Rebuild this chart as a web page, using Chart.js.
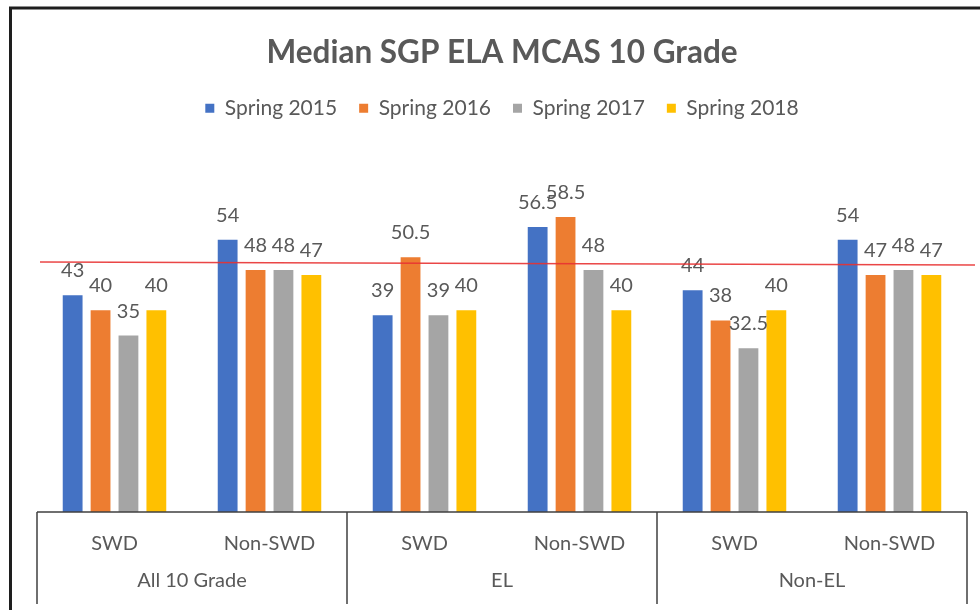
<!DOCTYPE html>
<html lang="en">

<head>
    <meta charset="UTF-8">
    <title>Median SGP ELA MCAS 10 Grade</title>
    <script src="https://cdn.jsdelivr.net/npm/chart.js"></script>
    <style>
        html, body { margin: 0; padding: 0; background: #fff; }
        .chart-box { width: 980px; height: 610px; }
    </style>
</head>

<body>
    <div class="chart-box">
        <canvas id="sgpChart" width="980" height="610"></canvas>
    </div>

    <script>
        // chart data
        const subgroups = ['SWD', 'Non-SWD', 'SWD', 'Non-SWD', 'SWD', 'Non-SWD'];
        const groups = ['All 10 Grade', 'EL', 'Non-EL'];
        const seriesNames = ['Spring 2015', 'Spring 2016', 'Spring 2017', 'Spring 2018'];
        const spring2015 = [43, 54, 39, 56.5, 44, 54];
        const spring2016 = [40, 48, 50.5, 58.5, 38, 47];
        const spring2017 = [35, 48, 39, 48, 32.5, 48];
        const spring2018 = [40, 47, 40, 40, 40, 47];
        const refLine = [49.6, 49.0]; // red reference line, left and right end

        const colors = ['#4472C4', '#ED7D31', '#A5A5A5', '#FFC000'];
        const textColor = '#595959';
        const fontFamily = 'Lato, "Open Sans", sans-serif';

        // white page + black frame
        const framePlugin = {
            id: 'frame',
            beforeDraw(chart) {
                const ctx = chart.ctx;
                ctx.save();
                ctx.fillStyle = '#fff';
                ctx.fillRect(0, 0, chart.width, chart.height);
                ctx.strokeStyle = '#1e1e1e';
                ctx.lineWidth = 3;
                ctx.beginPath();
                ctx.moveTo(10.5, chart.height);
                ctx.lineTo(10.5, 8);
                ctx.lineTo(chart.width, 8);
                ctx.stroke();
                ctx.restore();
            }
        };

        // baseline and group dividers under the bars
        const axisBoxPlugin = {
            id: 'axisBox',
            afterDraw(chart) {
                const ctx = chart.ctx;
                const area = chart.chartArea;
                const g = chart.scales.group;
                const half = (g.getPixelForValue(1) - g.getPixelForValue(0)) / 2;
                ctx.save();
                ctx.strokeStyle = '#404040';
                ctx.lineWidth = 1.5;
                ctx.beginPath();
                ctx.moveTo(area.left, area.bottom);
                ctx.lineTo(area.right, area.bottom);
                for (let i = 0; i <= groups.length; i++) {
                    const x = g.getPixelForValue(0) - half + i * half * 2;
                    ctx.moveTo(x, area.bottom);
                    ctx.lineTo(x, g.bottom);
                }
                ctx.stroke();

                // red reference line
                const y = chart.scales.y;
                ctx.strokeStyle = 'rgba(232, 50, 50, 0.9)';
                ctx.lineWidth = 1.5;
                ctx.beginPath();
                ctx.moveTo(area.left + 3, y.getPixelForValue(refLine[0]));
                ctx.lineTo(area.right + 8, y.getPixelForValue(refLine[1]));
                ctx.stroke();
                ctx.restore();
            }
        };

        // value labels above each bar
        const valueLabelPlugin = {
            id: 'valueLabels',
            afterDatasetsDraw(chart) {
                const ctx = chart.ctx;
                ctx.save();
                ctx.fillStyle = textColor;
                ctx.font = '20px ' + fontFamily;
                ctx.textAlign = 'center';
                ctx.textBaseline = 'alphabetic';
                chart.data.datasets.forEach((ds, i) => {
                    chart.getDatasetMeta(i).data.forEach((bar, j) => {
                        ctx.fillText(String(ds.data[j]), bar.x, bar.y - 18);
                    });
                });
                ctx.restore();
            }
        };

        const allSeries = [spring2015, spring2016, spring2017, spring2018];

        new Chart(document.getElementById('sgpChart').getContext('2d'), {
            type: 'bar',
            data: {
                labels: subgroups,
                datasets: allSeries.map((values, i) => ({
                    label: seriesNames[i],
                    data: values,
                    backgroundColor: colors[i],
                    categoryPercentage: 0.72,
                    barPercentage: 0.71
                }))
            },
            options: {
                responsive: false,
                animation: false,
                layout: { padding: { top: 10, left: 37, right: 13, bottom: 6 } },
                plugins: {
                    title: {
                        display: true,
                        text: 'Median SGP ELA MCAS 10 Grade',
                        color: textColor,
                        font: { family: fontFamily, size: 31.5, weight: 'bold' },
                        padding: { top: 24, bottom: 4 }
                    },
                    legend: {
                        labels: {
                            color: textColor,
                            font: { family: fontFamily, size: 21 },
                            boxWidth: 9,
                            boxHeight: 9,
                            padding: 22
                        }
                    },
                    tooltip: { enabled: false }
                },
                scales: {
                    x: {
                        grid: { display: false, drawTicks: false },
                        border: { display: false },
                        ticks: {
                            color: textColor,
                            font: { family: fontFamily, size: 20 },
                            padding: 20,
                            maxRotation: 0
                        },
                        afterFit(scale) { scale.height = 46; }
                    },
                    group: {
                        type: 'category',
                        labels: groups,
                        position: 'bottom',
                        offset: true,
                        grid: { display: false, drawTicks: false },
                        border: { display: false },
                        ticks: {
                            color: textColor,
                            font: { family: fontFamily, size: 20 },
                            padding: 11,
                            maxRotation: 0
                        }
                    },
                    y: {
                        display: false,
                        min: 0,
                        max: 76
                    }
                }
            },
            plugins: [framePlugin, axisBoxPlugin, valueLabelPlugin]
        });
    </script>
</body>

</html>
